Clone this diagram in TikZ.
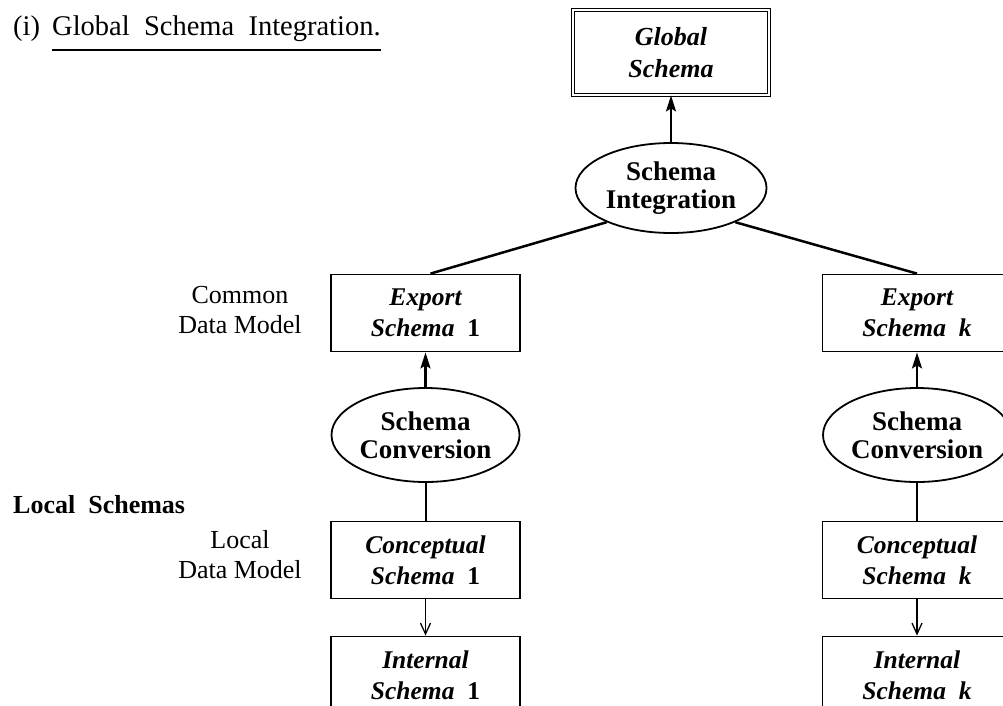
\documentclass[tikz,border=0pt]{standalone}
\usepackage{fontspec}
\setmainfont{Liberation Serif}
\usetikzlibrary{shapes.geometric,arrows.meta}

\tikzset{
  sidelabel/.style={font=\fontsize{26}{30}\selectfont, align=center, inner sep=0pt},
  schemabox/.style={draw, line width=1.8pt, minimum width=189pt, minimum height=77pt,
    inner sep=0pt, align=center, font=\fontsize{25.5}{31}\selectfont\bfseries\itshape},
  globalbox/.style={schemabox, double, line width=1.1pt, double distance=2.3pt,
    minimum width=195.6pt, minimum height=84.7pt, font=\fontsize{26}{32}\selectfont\bfseries\itshape},
  process/.style={ellipse, draw, line width=1.8pt, inner sep=0pt, align=center,
    font=\fontsize{27}{28}\selectfont\bfseries},
  upflow/.style={line width=2.2pt, -{Stealth[length=16pt,width=10pt,inset=3pt]}},
  link/.style={line width=2.5pt},
  joinline/.style={line width=2pt},
  downflow/.style={line width=1.3pt, -{Straight Barb[length=11pt,width=10pt,line width=1.3pt]}},
}

\begin{document}
\begin{tikzpicture}[x=1pt, y=-1pt]
  \clip (0,0) rectangle (1003,705);

  % heading
  \node[anchor=base west, inner sep=0pt, font=\fontsize{28.5}{30}\selectfont] (num) at (13,35) {(i)};
  \node[anchor=base west, inner sep=0pt, font=\fontsize{28.5}{30}\selectfont] (title) at (52,35)
    {Global~~Schema~~Integration.};
  \draw[line width=1.6pt] ([yshift=-15pt]title.base west) -- ([yshift=-15pt]title.base east);

  % integration level
  \node[globalbox] (glob) at (671,52.5) {Global\\Schema};
  \node[process, minimum width=191pt, minimum height=90pt] (integ) at (671,188) {Schema\\Integration};

  % export schemas
  \node[schemabox] (exp1) at (425.5,313) {Export\\Schema\enspace{\upshape 1}};
  \node[schemabox] (expk) at (917,313) {Export\\Schema\enspace k};

  % conversions
  \node[process, minimum width=188pt, minimum height=94pt] (conv1) at (425.5,435) {Schema\\Conversion};
  \node[process, minimum width=188pt, minimum height=94pt] (convk) at (917,435) {Schema\\Conversion};

  % local schemas
  \node[schemabox] (con1) at (425.5,560) {Conceptual\\Schema\enspace{\upshape 1}};
  \node[schemabox] (conk) at (917,560) {Conceptual\\Schema\enspace k};
  \node[schemabox] (int1) at (425.5,675) {Internal\\Schema\enspace{\upshape 1}};
  \node[schemabox] (intk) at (917,675) {Internal\\Schema\enspace k};

  % side labels
  \node[sidelabel] (cdm) at (240,310) {Common\\Data Model};
  \node[anchor=base west, inner sep=0pt, font=\fontsize{26}{30}\selectfont\bfseries] (locs) at (13,513)
    {Local~~Schemas};
  \node[sidelabel] (ldm) at (240,555) {Local\\Data Model};

  % connectors
  \draw[upflow] (integ) -- (glob);
  \draw[link] (integ.208) -- ([xshift=5pt]exp1.north);
  \draw[link] (integ.332) -- (expk.north);
  \draw[upflow] (conv1) -- (exp1);
  \draw[upflow] (convk) -- (expk);
  \draw[joinline] (conv1) -- (con1);
  \draw[joinline] (convk) -- (conk);
  \draw[downflow] (con1) -- (int1);
  \draw[downflow] (conk) -- (intk);
\end{tikzpicture}
\end{document}
